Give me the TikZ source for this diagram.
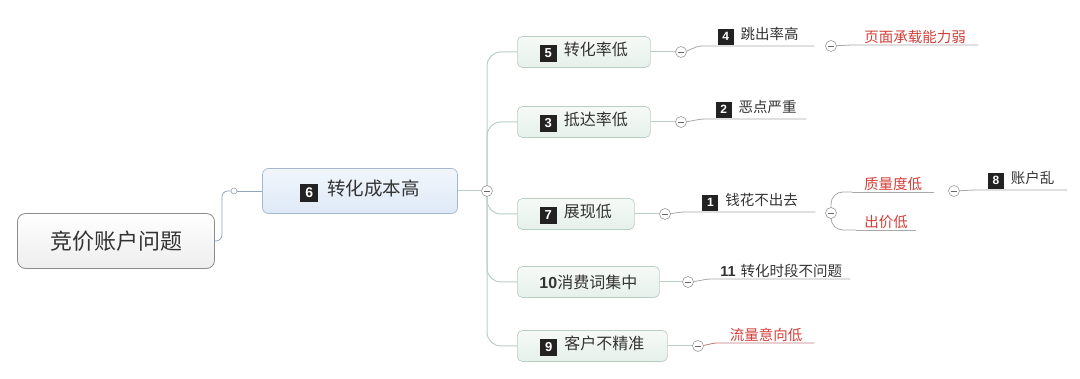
\documentclass[tikz,border=0pt]{standalone}
\usepackage{fontspec}
\setmainfont{Noto Sans CJK SC}
\newfontfamily\numf{Liberation Sans}
\definecolor{txt}{HTML}{333333}
\definecolor{redt}{HTML}{D2403A}
\definecolor{badge}{HTML}{222222}
\definecolor{linegray}{HTML}{A8A8A8}
\definecolor{trunkc}{HTML}{B9CFC3}
\definecolor{rootline}{HTML}{8FA6C0}
\definecolor{mtop}{HTML}{F1F6FC}
\definecolor{mbot}{HTML}{DEE9F6}
\definecolor{ctop}{HTML}{F6FAF7}
\definecolor{cbot}{HTML}{E6F0EA}
\newcommand\bdg[3]{\raisebox{-0.09em}{\setlength\fboxsep{0pt}\colorbox{badge}{\parbox[c][#2pt][c]{#2pt}{\centering\fontsize{#3pt}{#3pt}\selectfont\numf\bfseries\color{white}#1}}}}
\begin{document}
\begin{tikzpicture}[x=1pt,y=-1pt,
  rootbox/.style={draw=black!45,rounded corners=8pt,top color=white,bottom color=black!7,
    minimum width=197pt,minimum height=55pt,font=\fontsize{22pt}{24pt}\selectfont,text=txt,line width=0.8pt},
  mainbox/.style={draw=rootline!80,rounded corners=6pt,top color=mtop,bottom color=mbot,
    minimum width=195pt,minimum height=45pt,font=\fontsize{18.5pt}{20pt}\selectfont,text=txt,line width=0.7pt},
  childbox/.style={draw=trunkc,rounded corners=5pt,top color=ctop,bottom color=cbot,
    minimum height=31pt,anchor=west,font=\fontsize{16pt}{18pt}\selectfont,text=txt,line width=0.7pt},
  leaf/.style={anchor=south west,inner xsep=0pt,inner ysep=1pt,align=center,
    font=\fontsize{14.5pt}{16pt}\selectfont,text=txt},
  redleaf/.style={leaf,text=redt},
  cbtn/.style={circle,draw=black!40,fill=white,minimum size=11pt,inner sep=0pt,line width=0.6pt,
    path picture={\draw[black!60,line width=0.9pt] ([xshift=-2.8pt]path picture bounding box.center) -- ([xshift=2.8pt]path picture bounding box.center);}},
  sbtn/.style={circle,draw=rootline,fill=white,minimum size=6pt,inner sep=0pt,line width=0.6pt},
  trunk/.style={draw=trunkc,line width=1pt,rounded corners=14pt},
  gline/.style={draw=linegray,line width=0.8pt},
]
\useasboundingbox (0,0) rectangle (1080,379);

% nodes
\node[rootbox] (root) at (116,241) {竞价账户问题};
\node[mainbox] (n6) at (360,191) {\bdg{6}{18}{14}\hspace{9pt}转化成本高};
\coordinate (rcpos) at (234,191);
\coordinate (c6pos) at (487,191);

\node[childbox,minimum width=133pt] (n5) at (517,52) {\bdg{5}{17}{13}\hspace{7pt}转化率低};
\node[childbox,minimum width=133pt] (n3) at (517,122) {\bdg{3}{17}{13}\hspace{7pt}抵达率低};
\node[childbox,minimum width=117pt] (n7) at (517,214) {\bdg{7}{17}{13}\hspace{7pt}展现低};
\node[childbox,minimum width=142pt] (n10) at (517,282) {{\numf\bfseries 10}消费词集中};
\node[childbox,minimum width=150pt] (n9) at (517,346) {\bdg{9}{17}{13}\hspace{7pt}客户不精准};

\node[leaf,minimum width=112pt] (g4) at (702,46) {\bdg{4}{16}{12}\hspace{7pt}跳出率高};
\node[redleaf,minimum width=126pt] (r1) at (852,45) {页面承载能力弱};
\node[leaf,minimum width=100pt] (g2) at (706,119) {\bdg{2}{16}{12}\hspace{7pt}恶点严重};
\node[leaf,minimum width=130pt] (g1) at (685,212) {\bdg{1}{16}{12}\hspace{7pt}钱花不出去};
\node[redleaf,minimum width=82pt] (q) at (852,192) {质量度低};
\node[redleaf,minimum width=60pt] (cj) at (856,230) {出价低};
\node[leaf,minimum width=92pt] (e8) at (975,190) {\bdg{8}{16}{12}\hspace{7pt}账户乱};
\node[leaf,minimum width=138pt] (g11) at (712,279) {{\numf\bfseries 11}\hspace{5pt}转化时段不问题};
\node[redleaf,minimum width=96pt] (r9) at (718,343) {流量意向低};

% connectors
\draw[draw=rootline,line width=0.8pt,rounded corners=6pt] (root.east) -- ++(7,0) |- (rcpos);
\draw[draw=rootline,line width=0.8pt] (rcpos) -- (n6.west);
\draw[trunk] (n6.east) -- (c6pos);
\draw[trunk] (c6pos) |- (n5.west);
\draw[trunk] (c6pos) |- (n3.west);
\draw[trunk] (c6pos) |- (n7.west);
\draw[trunk] (c6pos) |- (n10.west);
\draw[trunk] (c6pos) |- (n9.west);

\coordinate (c5pos) at (681,52);
\coordinate (c3pos) at (681,122);
\coordinate (c7pos) at (665,214);
\coordinate (c10pos) at (688,282);
\coordinate (c9pos) at (698,346);
\coordinate (c4pos) at (831,46);
\coordinate (c1pos) at (831,213);
\coordinate (cqpos) at (954,191);

\draw[trunk] (n5.east) -- (c5pos);
\draw[trunk] (n3.east) -- (c3pos);
\draw[trunk] (n7.east) -- (c7pos);
\draw[trunk] (n10.east) -- (c10pos);
\draw[trunk] (n9.east) -- (c9pos);

\draw[gline] (c5pos) to[out=0,in=180] (g4.south west) -- (g4.south east);
\draw[gline] (c4pos) -- (r1.south west) -- (r1.south east);
\draw[gline] (c3pos) to[out=0,in=180] (g2.south west) -- (g2.south east);
\draw[gline] (c7pos) to[out=0,in=180] (g1.south west) -- (g1.south east);
\draw[gline,rounded corners=12pt] (c1pos) |- (q.south west);
\draw[gline] (q.south west) -- (q.south east);
\draw[gline,rounded corners=12pt] (c1pos) |- (cj.south west);
\draw[gline] (cj.south west) -- (cj.south east);
\draw[gline] (cqpos) -- (e8.south west) -- (e8.south east);
\draw[gline] (c10pos) to[out=0,in=180] (g11.south west) -- (g11.south east);
\draw[gline,draw=redt!45!linegray] (c9pos) to[out=0,in=180] (r9.south west) -- (r9.south east);

% collapse buttons
\node[sbtn] (rc) at (rcpos) {};
\node[cbtn] (c6) at (c6pos) {};
\node[cbtn] (c5) at (c5pos) {};
\node[cbtn] (c3) at (c3pos) {};
\node[cbtn] (c7) at (c7pos) {};
\node[cbtn] (c10) at (c10pos) {};
\node[cbtn] (c9) at (c9pos) {};
\node[cbtn] (c4) at (c4pos) {};
\node[cbtn] (c1) at (c1pos) {};
\node[cbtn] (cq) at (cqpos) {};
\end{tikzpicture}
\end{document}
